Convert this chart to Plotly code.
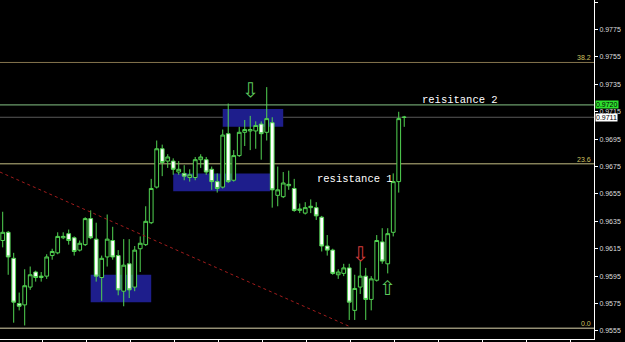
import plotly.graph_objects as go

# ---- data ----
opens = [0.9621, 0.9627, 0.9608, 0.9575, 0.9574, 0.9587, 0.9598, 0.9594, 0.9595, 0.9610,
         0.9612, 0.9623, 0.9626, 0.9623, 0.9614, 0.9618, 0.9637, 0.9622, 0.9594, 0.9609,
         0.9621, 0.9610, 0.9584, 0.9604, 0.9587, 0.9615, 0.9618, 0.9634, 0.9660, 0.9688,
         0.9679, 0.9679, 0.9671, 0.9670, 0.9667, 0.9667, 0.9680, 0.9680, 0.9673, 0.9664,
         0.9660, 0.9699, 0.9665, 0.9683, 0.9700, 0.9701, 0.9701, 0.9706, 0.9700, 0.9707,
         0.9654, 0.9653, 0.9661, 0.9659, 0.9643, 0.9641, 0.9645, 0.9645, 0.9638, 0.9617,
         0.9614, 0.9596, 0.9597, 0.9601, 0.9570, 0.9587, 0.9595, 0.9578, 0.9592, 0.9620,
         0.9604, 0.9627, 0.9664, 0.9711]
highs = [0.9642, 0.9628, 0.9612, 0.9583, 0.9600, 0.9602, 0.9599, 0.9598, 0.9611, 0.9615,
         0.9627, 0.9627, 0.9629, 0.9624, 0.9621, 0.9638, 0.9643, 0.9634, 0.9610, 0.9640,
         0.9631, 0.9614, 0.9622, 0.9622, 0.9617, 0.9624, 0.9646, 0.9666, 0.9694, 0.9691,
         0.9684, 0.9681, 0.9679, 0.9676, 0.9673, 0.9682, 0.9684, 0.9682, 0.9675, 0.9670,
         0.9702, 0.9721, 0.9687, 0.9704, 0.9709, 0.9712, 0.9708, 0.9708, 0.9733, 0.9711,
         0.9675, 0.9671, 0.9672, 0.9666, 0.9648, 0.9649, 0.9651, 0.9649, 0.9639, 0.9625,
         0.9615, 0.9600, 0.9604, 0.9604, 0.9596, 0.9606, 0.9601, 0.9595, 0.9625, 0.9630,
         0.9630, 0.9670, 0.9715, 0.9712]
lows = [0.9616, 0.9596, 0.9561, 0.9570, 0.9559, 0.9585, 0.9591, 0.9591, 0.9593, 0.9607,
        0.9611, 0.9622, 0.9618, 0.9610, 0.9613, 0.9617, 0.9622, 0.9591, 0.9577, 0.9602,
        0.9607, 0.9581, 0.9573, 0.9579, 0.9584, 0.9598, 0.9617, 0.9633, 0.9659, 0.9668,
        0.9674, 0.9669, 0.9669, 0.9665, 0.9664, 0.9665, 0.9674, 0.9669, 0.9658, 0.9656,
        0.9659, 0.9663, 0.9664, 0.9682, 0.9690, 0.9687, 0.9688, 0.9680, 0.9694, 0.9645,
        0.9646, 0.9652, 0.9658, 0.9642, 0.9641, 0.9640, 0.9641, 0.9636, 0.9613, 0.9610,
        0.9596, 0.9593, 0.9595, 0.9563, 0.9563, 0.9582, 0.9563, 0.9570, 0.9591, 0.9604,
        0.9597, 0.9624, 0.9656, 0.9704]
closes = [0.9627, 0.9609, 0.9576, 0.9573, 0.9588, 0.9596, 0.9594, 0.9595, 0.9609, 0.9613,
          0.9624, 0.9624, 0.9621, 0.9613, 0.9619, 0.9637, 0.9623, 0.9595, 0.9608, 0.9622,
          0.9609, 0.9585, 0.9603, 0.9585, 0.9614, 0.9619, 0.9635, 0.9659, 0.9688, 0.9678,
          0.9682, 0.9673, 0.9673, 0.9668, 0.9669, 0.9680, 0.9682, 0.9671, 0.9664, 0.9659,
          0.9698, 0.9664, 0.9683, 0.9700, 0.9702, 0.9702, 0.9705, 0.9699, 0.9710, 0.9658,
          0.9658, 0.9663, 0.9662, 0.9643, 0.9644, 0.9645, 0.9646, 0.9639, 0.9617, 0.9614,
          0.9597, 0.9598, 0.9601, 0.9576, 0.9586, 0.9595, 0.9578, 0.9593, 0.9621, 0.9606,
          0.9626, 0.9664, 0.9710, 0.9711]
bars = list(range(len(opens)))

fib_levels = [0.9751, 0.9677, 0.9557]
fib_labels = ["38.2", "23.6", "0.0"]
fib_colors = ["#85744e", "#c4be84", "#ddd6ae"]

resistance2_level = 0.9720
last_price = 0.9711

# rectangles: (bar0, bar1, price_low, price_high)
rect_bar0 = [16, 31, 40]
rect_bar1 = [27, 48.6, 51]
rect_lo = [0.9576, 0.9657, 0.9704]
rect_hi = [0.9596, 0.9670, 0.9717]

trend_x = [-0.5, 63.2]
trend_y = [0.9671, 0.9558]

arrow_x = [45, 65, 70]
arrow_y = [0.9731, 0.9611, 0.9586]
arrow_sym = ["\u21e9", "\u21e9", "\u21e7"]
arrow_col = ["#5cc85c", "#d23a3a", "#5cc85c"]

text_labels = ["reisitance 2", "resistance 1"]
text_x = [83.1, 64.05]
text_y = [0.97236, 0.96659]

GREEN = "#52d452"

fig = go.Figure()

fig.add_trace(go.Candlestick(
    x=bars, open=opens, high=highs, low=lows, close=closes,
    increasing=dict(line=dict(color=GREEN, width=1), fillcolor="#000000"),
    decreasing=dict(line=dict(color=GREEN, width=1), fillcolor="#ffffff"),
    whiskerwidth=0, showlegend=False, hoverinfo="skip"))

fig.add_trace(go.Scatter(
    x=trend_x, y=trend_y, mode="lines",
    line=dict(color="#a01c1c", width=1, dash="dot"),
    showlegend=False, hoverinfo="skip"))

shapes = []
for b0, b1, lo, hi in zip(rect_bar0, rect_bar1, rect_lo, rect_hi):
    shapes.append(dict(type="rect", xref="x", yref="y", x0=b0, x1=b1, y0=lo, y1=hi,
                       fillcolor="#1e1e8c", line=dict(width=0), layer="below"))
for lv, col in zip(fib_levels, fib_colors):
    shapes.append(dict(type="line", xref="paper", yref="y", x0=0, x1=1, y0=lv, y1=lv,
                       line=dict(color=col, width=1), layer="below"))
shapes.append(dict(type="line", xref="paper", yref="y", x0=0, x1=1,
                   y0=resistance2_level, y1=resistance2_level,
                   line=dict(color="#86c486", width=1), layer="below"))
shapes.append(dict(type="line", xref="paper", yref="y", x0=0, x1=1,
                   y0=last_price, y1=last_price,
                   line=dict(color="#5a5a5a", width=1), layer="below"))

annotations = []
for lv, lab in zip(fib_levels, fib_labels):
    annotations.append(dict(xref="paper", yref="y", x=1, y=lv, text=lab, showarrow=False,
                            xanchor="right", yanchor="bottom", xshift=-1, yshift=-1,
                            font=dict(family="Liberation Sans", size=7, color="#cfc060")))
for xs, ys, sym, col in zip(arrow_x, arrow_y, arrow_sym, arrow_col):
    annotations.append(dict(xref="x", yref="y", x=xs, y=ys, text=sym, showarrow=False,
                            font=dict(family="DejaVu Sans", size=20, color=col)))
for t, xs, ys in zip(text_labels, text_x, text_y):
    annotations.append(dict(xref="x", yref="y", x=xs, y=ys, text=t, showarrow=False,
                            font=dict(family="Liberation Mono", size=10.5, color="#ffffff")))
annotations.append(dict(xref="paper", yref="y", x=1, y=resistance2_level,
                        text="%.4f" % resistance2_level, showarrow=False,
                        xanchor="left", yanchor="middle", xshift=1, borderpad=0,
                        bgcolor="#2ee02e",
                        font=dict(family="Liberation Sans", size=7, color="#000000")))
annotations.append(dict(xref="paper", yref="y", x=1, y=last_price,
                        text="%.4f" % last_price, showarrow=False,
                        xanchor="left", yanchor="middle", xshift=1, borderpad=0,
                        bgcolor="#ffffff",
                        font=dict(family="Liberation Sans", size=7, color="#000000")))

fig.update_layout(
    width=625, height=342,
    margin=dict(l=0, r=31, t=0, b=3),
    paper_bgcolor="#000000", plot_bgcolor="#000000",
    boxgap=0.32, boxgroupgap=0,
    shapes=shapes, annotations=annotations,
    xaxis=dict(range=[-0.49, 107.5], showgrid=False, zeroline=False,
               showline=True, linecolor="#ffffff", linewidth=1,
               ticks="outside", ticklen=3, tickcolor="#ffffff",
               tickmode="linear", tick0=7.15, dtick=8,
               showticklabels=False, rangeslider=dict(visible=False)),
    yaxis=dict(range=[0.95491, 0.97966], side="right", showgrid=False, zeroline=False,
               showline=True, linecolor="#ffffff", linewidth=1,
               ticks="outside", ticklen=3, tickcolor="#ffffff",
               tickmode="linear", tick0=0.9555, dtick=0.002, tickformat=".4f",
               tickfont=dict(family="Liberation Sans", size=7, color="#dddddd")),
)

fig.write_html("out.html")
